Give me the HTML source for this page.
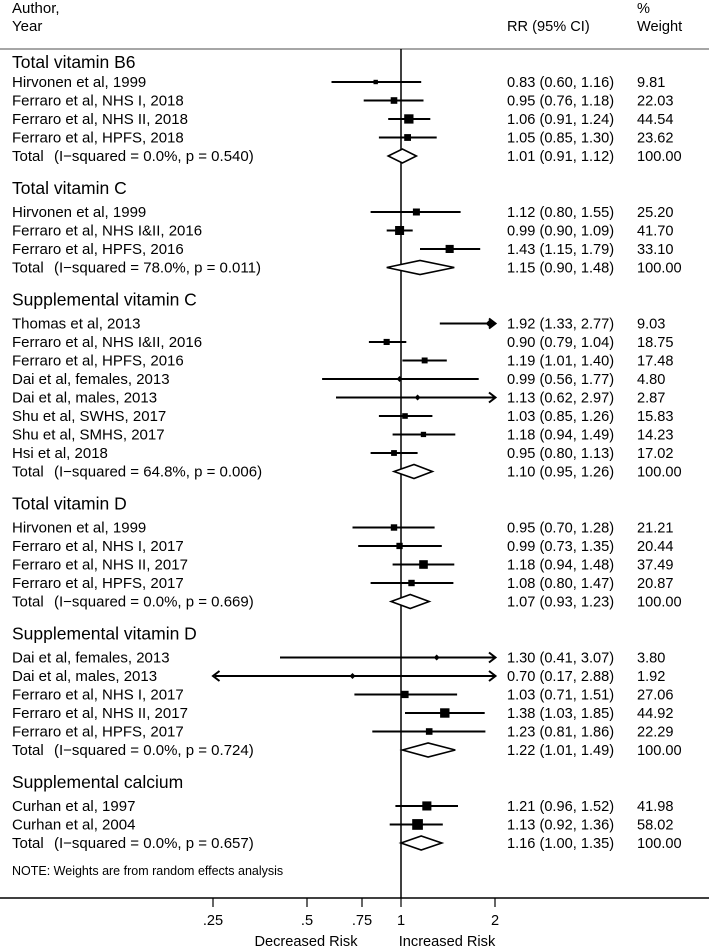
<!DOCTYPE html>
<html><head><meta charset="utf-8"><style>
html,body{margin:0;padding:0;background:#fff}
svg{display:block}
text{font-family:"Liberation Sans",sans-serif;fill:#000}
.t{font-size:15px}
.r{font-size:14.6px}
.h{font-size:17.5px}
.s{font-size:12.5px}
</style></head><body>
<svg width="709" height="949" viewBox="0 0 709 949" xmlns="http://www.w3.org/2000/svg">
<text x="12" y="13" class="t">Author,</text>
<text x="12" y="31" class="t">Year</text>
<text x="507" y="31" class="r">RR (95% CI)</text>
<text x="637" y="13" class="r">%</text>
<text x="637" y="31" class="r">Weight</text>
<line x1="0" y1="49" x2="709" y2="49" stroke="#888" stroke-width="1.5"/>
<line x1="401" y1="49" x2="401" y2="898" stroke="#000" stroke-width="1.5"/>
<line x1="0" y1="898" x2="709" y2="898" stroke="#000" stroke-width="1.5"/>
<g stroke="#000" stroke-width="1.2">
<line x1="213" y1="898" x2="213" y2="907"/><line x1="307" y1="898" x2="307" y2="907"/>
<line x1="362" y1="898" x2="362" y2="907"/><line x1="401" y1="898" x2="401" y2="907"/>
<line x1="495" y1="898" x2="495" y2="907"/>
</g>
<g class="r" text-anchor="middle">
<text x="213" y="925">.25</text><text x="307" y="925">.5</text><text x="362" y="925">.75</text>
<text x="401" y="925">1</text><text x="495" y="925">2</text>
<text x="306" y="946">Decreased Risk</text><text x="447" y="946">Increased Risk</text>
</g>

<!-- labels -->
<g>
<text class="h" x="12" y="68">Total vitamin B6</text>
<text class="t" x="12" y="87">Hirvonen et al, 1999</text>
<text class="t" x="12" y="105.5">Ferraro et al, NHS I, 2018</text>
<text class="t" x="12" y="124">Ferraro et al, NHS II, 2018</text>
<text class="t" x="12" y="142.5">Ferraro et al, HPFS, 2018</text>
<text class="t" x="12" y="161">Total<tspan x="54">(I−squared = 0.0%, p = 0.540)</tspan></text>

<text class="h" x="12" y="194">Total vitamin C</text>
<text class="t" x="12" y="217">Hirvonen et al, 1999</text>
<text class="t" x="12" y="235.5">Ferraro et al, NHS I&amp;II, 2016</text>
<text class="t" x="12" y="254">Ferraro et al, HPFS, 2016</text>
<text class="t" x="12" y="272.5">Total<tspan x="54">(I−squared = 78.0%, p = 0.011)</tspan></text>

<text class="h" x="12" y="305.5">Supplemental vitamin C</text>
<text class="t" x="12" y="328.5">Thomas et al, 2013</text>
<text class="t" x="12" y="347">Ferraro et al, NHS I&amp;II, 2016</text>
<text class="t" x="12" y="365.5">Ferraro et al, HPFS, 2016</text>
<text class="t" x="12" y="384">Dai et al, females, 2013</text>
<text class="t" x="12" y="402.5">Dai et al, males, 2013</text>
<text class="t" x="12" y="421">Shu et al, SWHS, 2017</text>
<text class="t" x="12" y="439.5">Shu et al, SMHS, 2017</text>
<text class="t" x="12" y="458">Hsi et al, 2018</text>
<text class="t" x="12" y="476.5">Total<tspan x="54">(I−squared = 64.8%, p = 0.006)</tspan></text>

<text class="h" x="12" y="509.5">Total vitamin D</text>
<text class="t" x="12" y="532.5">Hirvonen et al, 1999</text>
<text class="t" x="12" y="551">Ferraro et al, NHS I, 2017</text>
<text class="t" x="12" y="569.5">Ferraro et al, NHS II, 2017</text>
<text class="t" x="12" y="588">Ferraro et al, HPFS, 2017</text>
<text class="t" x="12" y="606.5">Total<tspan x="54">(I−squared = 0.0%, p = 0.669)</tspan></text>

<text class="h" x="12" y="639.5">Supplemental vitamin D</text>
<text class="t" x="12" y="662.5">Dai et al, females, 2013</text>
<text class="t" x="12" y="681">Dai et al, males, 2013</text>
<text class="t" x="12" y="699.5">Ferraro et al, NHS I, 2017</text>
<text class="t" x="12" y="718">Ferraro et al, NHS II, 2017</text>
<text class="t" x="12" y="736.5">Ferraro et al, HPFS, 2017</text>
<text class="t" x="12" y="755">Total<tspan x="54">(I−squared = 0.0%, p = 0.724)</tspan></text>

<text class="h" x="12" y="788">Supplemental calcium</text>
<text class="t" x="12" y="811">Curhan et al, 1997</text>
<text class="t" x="12" y="829.5">Curhan et al, 2004</text>
<text class="t" x="12" y="848">Total<tspan x="54">(I−squared = 0.0%, p = 0.657)</tspan></text>
<text class="s" x="12" y="875">NOTE: Weights are from random effects analysis</text>
</g>

<!-- RR / weight -->
<g class="r">
<text x="507" y="87">0.83 (0.60, 1.16)</text><text x="637" y="87">9.81</text>
<text x="507" y="105.5">0.95 (0.76, 1.18)</text><text x="637" y="105.5">22.03</text>
<text x="507" y="124">1.06 (0.91, 1.24)</text><text x="637" y="124">44.54</text>
<text x="507" y="142.5">1.05 (0.85, 1.30)</text><text x="637" y="142.5">23.62</text>
<text x="507" y="161">1.01 (0.91, 1.12)</text><text x="637" y="161">100.00</text>
<text x="507" y="217">1.12 (0.80, 1.55)</text><text x="637" y="217">25.20</text>
<text x="507" y="235.5">0.99 (0.90, 1.09)</text><text x="637" y="235.5">41.70</text>
<text x="507" y="254">1.43 (1.15, 1.79)</text><text x="637" y="254">33.10</text>
<text x="507" y="272.5">1.15 (0.90, 1.48)</text><text x="637" y="272.5">100.00</text>
<text x="507" y="328.5">1.92 (1.33, 2.77)</text><text x="637" y="328.5">9.03</text>
<text x="507" y="347">0.90 (0.79, 1.04)</text><text x="637" y="347">18.75</text>
<text x="507" y="365.5">1.19 (1.01, 1.40)</text><text x="637" y="365.5">17.48</text>
<text x="507" y="384">0.99 (0.56, 1.77)</text><text x="637" y="384">4.80</text>
<text x="507" y="402.5">1.13 (0.62, 2.97)</text><text x="637" y="402.5">2.87</text>
<text x="507" y="421">1.03 (0.85, 1.26)</text><text x="637" y="421">15.83</text>
<text x="507" y="439.5">1.18 (0.94, 1.49)</text><text x="637" y="439.5">14.23</text>
<text x="507" y="458">0.95 (0.80, 1.13)</text><text x="637" y="458">17.02</text>
<text x="507" y="476.5">1.10 (0.95, 1.26)</text><text x="637" y="476.5">100.00</text>
<text x="507" y="532.5">0.95 (0.70, 1.28)</text><text x="637" y="532.5">21.21</text>
<text x="507" y="551">0.99 (0.73, 1.35)</text><text x="637" y="551">20.44</text>
<text x="507" y="569.5">1.18 (0.94, 1.48)</text><text x="637" y="569.5">37.49</text>
<text x="507" y="588">1.08 (0.80, 1.47)</text><text x="637" y="588">20.87</text>
<text x="507" y="606.5">1.07 (0.93, 1.23)</text><text x="637" y="606.5">100.00</text>
<text x="507" y="662.5">1.30 (0.41, 3.07)</text><text x="637" y="662.5">3.80</text>
<text x="507" y="681">0.70 (0.17, 2.88)</text><text x="637" y="681">1.92</text>
<text x="507" y="699.5">1.03 (0.71, 1.51)</text><text x="637" y="699.5">27.06</text>
<text x="507" y="718">1.38 (1.03, 1.85)</text><text x="637" y="718">44.92</text>
<text x="507" y="736.5">1.23 (0.81, 1.86)</text><text x="637" y="736.5">22.29</text>
<text x="507" y="755">1.22 (1.01, 1.49)</text><text x="637" y="755">100.00</text>
<text x="507" y="811">1.21 (0.96, 1.52)</text><text x="637" y="811">41.98</text>
<text x="507" y="829.5">1.13 (0.92, 1.36)</text><text x="637" y="829.5">58.02</text>
<text x="507" y="848">1.16 (1.00, 1.35)</text><text x="637" y="848">100.00</text>
</g>

<!-- CI lines -->
<g stroke="#000" stroke-width="2">
<line x1="331.5" y1="82" x2="421.2" y2="82"/>
<line x1="363.7" y1="100.5" x2="423.5" y2="100.5"/>
<line x1="388.2" y1="119" x2="430.3" y2="119"/>
<line x1="378.9" y1="137.5" x2="436.7" y2="137.5"/>
<line x1="370.6" y1="212" x2="460.6" y2="212"/>
<line x1="386.7" y1="230.5" x2="412.7" y2="230.5"/>
<line x1="420" y1="249" x2="480.2" y2="249"/>
<line x1="439.8" y1="323.5" x2="494" y2="323.5"/>
<line x1="368.9" y1="342" x2="406.3" y2="342"/>
<line x1="402.4" y1="360.5" x2="446.8" y2="360.5"/>
<line x1="322.1" y1="379" x2="478.7" y2="379"/>
<line x1="336" y1="397.5" x2="494" y2="397.5"/>
<line x1="378.9" y1="416" x2="432.4" y2="416"/>
<line x1="392.6" y1="434.5" x2="455.3" y2="434.5"/>
<line x1="370.6" y1="453" x2="417.6" y2="453"/>
<line x1="352.5" y1="527.5" x2="434.6" y2="527.5"/>
<line x1="358.2" y1="546" x2="441.8" y2="546"/>
<line x1="392.6" y1="564.5" x2="454.3" y2="564.5"/>
<line x1="370.6" y1="583" x2="453.4" y2="583"/>
<line x1="280" y1="657.5" x2="494" y2="657.5"/>
<line x1="215" y1="676" x2="494" y2="676"/>
<line x1="354.4" y1="694.5" x2="457.1" y2="694.5"/>
<line x1="405" y1="713" x2="484.7" y2="713"/>
<line x1="372.3" y1="731.5" x2="485.4" y2="731.5"/>
<line x1="395.4" y1="806" x2="458" y2="806"/>
<line x1="389.7" y1="824.5" x2="442.8" y2="824.5"/>
</g>
<g stroke="#000" stroke-width="2" fill="none">
<polyline points="489,318.5 495.5,323.5 489,328.5"/>
<polyline points="489,392.5 495.5,397.5 489,402.5"/>
<polyline points="489,652.5 495.5,657.5 489,662.5"/>
<polyline points="489,671 495.5,676 489,681"/>
<polyline points="219.5,671 213,676 219.5,681"/>
</g>
<g fill="#000">
<rect x="373.5" y="79.8" width="4.4" height="4.4"/>
<rect x="390.7" y="97.2" width="6.6" height="6.6"/>
<rect x="404.2" y="114.3" width="9.3" height="9.3"/>
<rect x="404.2" y="134.1" width="6.8" height="6.8"/>
<rect x="412.9" y="208.5" width="7" height="7"/>
<rect x="395.1" y="226" width="9" height="9"/>
<rect x="445.6" y="244.9" width="8.1" height="8.1"/>
<rect x="383.6" y="338.9" width="6.1" height="6.1"/>
<rect x="421.7" y="357.5" width="5.9" height="5.9"/>
<rect x="402.2" y="413.2" width="5.6" height="5.6"/>
<rect x="420.8" y="431.8" width="5.3" height="5.3"/>
<rect x="391.1" y="450.1" width="5.8" height="5.8"/>
<rect x="390.8" y="524.3" width="6.4" height="6.4"/>
<rect x="396.4" y="542.8" width="6.3" height="6.3"/>
<rect x="419.2" y="560.2" width="8.6" height="8.6"/>
<rect x="408.3" y="579.8" width="6.4" height="6.4"/>
<rect x="401.3" y="690.8" width="7.3" height="7.3"/>
<rect x="440.1" y="708.3" width="9.4" height="9.4"/>
<rect x="425.9" y="728.2" width="6.6" height="6.6"/>
<rect x="422.3" y="801.4" width="9.1" height="9.1"/>
<rect x="412.2" y="819.1" width="10.7" height="10.7"/>
<polygon points="489.7,319.5 493.7,323.5 489.7,327.5 485.7,323.5"/>
<polygon points="399.6,376 402.6,379 399.6,382 396.6,379"/>
<polygon points="417.6,394.5 420.6,397.5 417.6,400.5 414.6,397.5"/>
<polygon points="436.7,654.5 439.7,657.5 436.7,660.5 433.7,657.5"/>
<polygon points="352.5,673 355.5,676 352.5,679 349.5,676"/>
</g>
<g fill="#fff" stroke="#000" stroke-width="1.6">
<polygon points="388.2,156 402.4,149 416.4,156 402.4,163"/>
<polygon points="386.7,267.5 420,260.5 454.3,267.5 420,274.5"/>
<polygon points="394,471.5 414,464.5 432.4,471.5 414,478.5"/>
<polygon points="391.1,601.5 410.2,594.5 429.2,601.5 410.2,608.5"/>
<polygon points="402.4,750 428.1,743 455.3,750 428.1,757"/>
<polygon points="401,843 421.2,836 441.8,843 421.2,850"/>
</g>
</svg>
</body></html>
